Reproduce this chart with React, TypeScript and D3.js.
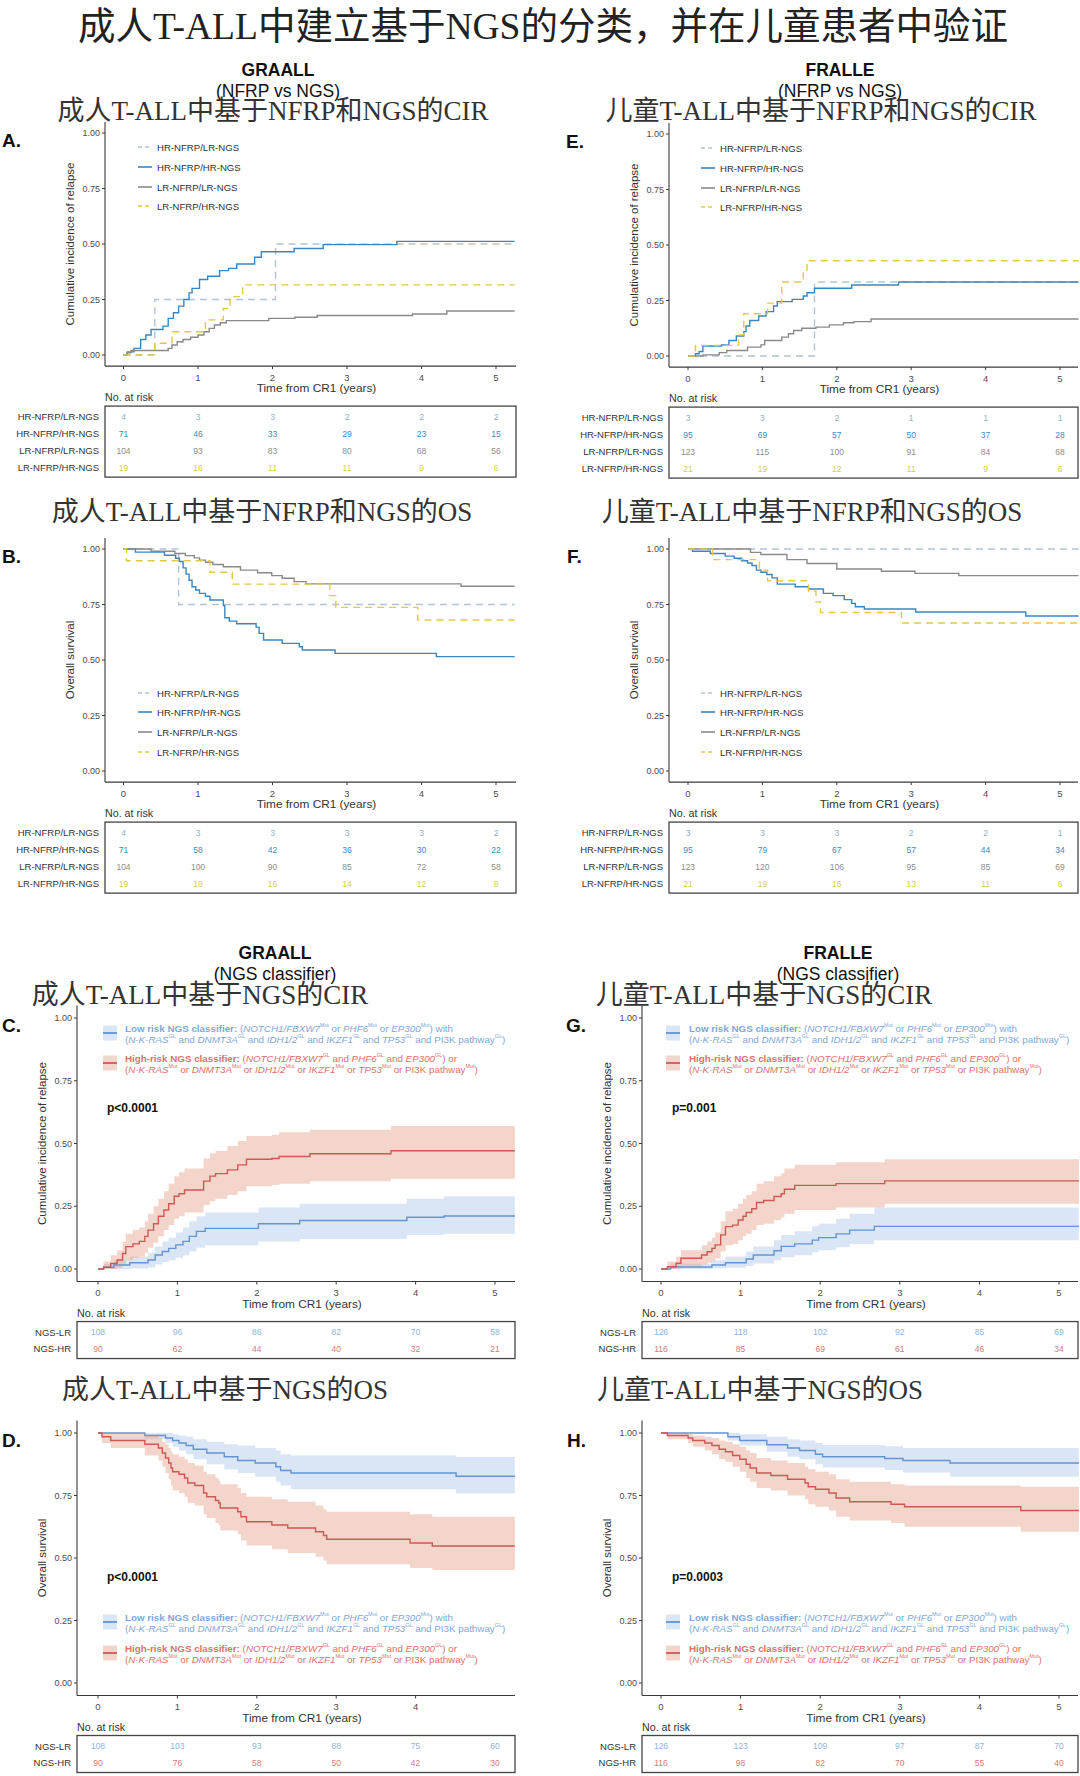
import React from "react";
import * as d3 from "d3";

// ---------------- DATA ----------------
const END = 5.25;
const timeTicks = [0, 1, 2, 3, 4, 5];
const timeTicksD = [0, 1, 2, 3, 4];
const yTicks = [0, 0.25, 0.5, 0.75, 1];
const groupsNFRP = ["HR-NFRP/LR-NGS", "HR-NFRP/HR-NGS", "LR-NFRP/LR-NGS", "LR-NFRP/HR-NGS"];
const groupsNGS = ["NGS-LR", "NGS-HR"];

// Panel A: CIR GRAALL NFRP vs NGS   [time, value]
const cirA_hrLr = [[0, 0], [0.42, 0.25], [2.04, 0.5]];
const cirA_hrHr = [[0, 0], [0.05, 0.014], [0.14, 0.03], [0.23, 0.07], [0.3, 0.09], [0.37, 0.115], [0.53, 0.13], [0.6, 0.165], [0.67, 0.19], [0.74, 0.22], [0.81, 0.25], [0.88, 0.28], [0.92, 0.3], [1.02, 0.34], [1.13, 0.355], [1.29, 0.38], [1.41, 0.39], [1.52, 0.41], [1.76, 0.44], [1.85, 0.465], [2.29, 0.48], [2.68, 0.497], [3.67, 0.512]];
const cirA_lrLr = [[0, 0], [0.05, 0.01], [0.1, 0.02], [0.6, 0.03], [0.65, 0.045], [0.72, 0.06], [0.8, 0.07], [0.9, 0.08], [1.0, 0.09], [1.08, 0.105], [1.15, 0.12], [1.22, 0.135], [1.3, 0.145], [1.38, 0.155], [1.95, 0.165], [2.3, 0.17], [2.6, 0.178], [3.88, 0.185], [4.34, 0.198]];
const cirA_lrHr = [[0, 0], [0.42, 0.053], [0.65, 0.105], [1.1, 0.158], [1.34, 0.21], [1.43, 0.263], [1.6, 0.316]];
const riskA = [[4, 3, 3, 2, 2, 2], [71, 46, 33, 29, 23, 15], [104, 93, 83, 80, 68, 56], [19, 16, 11, 11, 9, 6]];

// Panel B: OS GRAALL NFRP vs NGS
const osB_hrLr = [[0, 1], [0.74, 0.75]];
const osB_hrHr = [[0, 1], [0.16, 0.986], [0.55, 0.972], [0.7, 0.958], [0.75, 0.944], [0.8, 0.915], [0.84, 0.887], [0.88, 0.859], [0.92, 0.83], [0.97, 0.815], [1.02, 0.8], [1.1, 0.787], [1.16, 0.77], [1.34, 0.745], [1.36, 0.69], [1.42, 0.675], [1.52, 0.663], [1.78, 0.648], [1.82, 0.62], [1.88, 0.59], [2.13, 0.575], [2.36, 0.56], [2.4, 0.545], [2.84, 0.53], [4.2, 0.515]];
const osB_lrLr = [[0, 1], [0.37, 0.99], [0.69, 0.98], [0.83, 0.97], [0.95, 0.96], [1.02, 0.95], [1.1, 0.94], [1.2, 0.93], [1.34, 0.92], [1.57, 0.905], [1.8, 0.893], [1.99, 0.88], [2.13, 0.868], [2.29, 0.853], [2.45, 0.843], [4.53, 0.832]];
const osB_lrHr = [[0, 1], [0.04, 0.947], [1.16, 0.895], [1.46, 0.842], [2.77, 0.79], [2.85, 0.737], [3.95, 0.68]];
const riskB = [[4, 3, 3, 3, 3, 2], [71, 58, 42, 36, 30, 22], [104, 100, 90, 85, 72, 58], [19, 18, 16, 14, 12, 8]];

// Panel E: CIR FRALLE NFRP vs NGS
const cirE_hrLr = [[0, 0], [1.7, 0.333]];
const cirE_hrHr = [[0, 0], [0.1, 0.01], [0.15, 0.02], [0.2, 0.045], [0.45, 0.05], [0.55, 0.07], [0.65, 0.09], [0.75, 0.11], [0.78, 0.135], [0.83, 0.16], [0.95, 0.18], [1.05, 0.2], [1.15, 0.225], [1.2, 0.245], [1.4, 0.255], [1.55, 0.27], [1.6, 0.285], [1.7, 0.305], [2.2, 0.32], [2.83, 0.333]];
const cirE_lrLr = [[0, 0], [0.2, 0.005], [0.42, 0.015], [0.52, 0.025], [0.8, 0.04], [0.98, 0.05], [1.03, 0.07], [1.26, 0.085], [1.35, 0.1], [1.42, 0.115], [1.53, 0.125], [1.72, 0.13], [1.9, 0.14], [2.09, 0.15], [2.23, 0.155], [2.46, 0.167]];
const cirE_lrHr = [[0, 0], [0.1, 0.048], [0.68, 0.095], [0.75, 0.19], [1.07, 0.238], [1.26, 0.333], [1.55, 0.381], [1.6, 0.429]];
const riskE = [[3, 3, 2, 1, 1, 1], [95, 69, 57, 50, 37, 28], [123, 115, 100, 91, 84, 68], [21, 19, 12, 11, 9, 6]];

// Panel F: OS FRALLE NFRP vs NGS
const osF_hrLr = [[0, 1]];
const osF_hrHr = [[0, 1], [0.06, 0.99], [0.3, 0.98], [0.5, 0.968], [0.62, 0.958], [0.72, 0.947], [0.8, 0.937], [0.86, 0.926], [0.92, 0.905], [0.98, 0.895], [1.06, 0.885], [1.13, 0.87], [1.2, 0.842], [1.44, 0.83], [1.62, 0.82], [1.82, 0.8], [1.95, 0.79], [2.1, 0.772], [2.2, 0.755], [2.25, 0.74], [2.37, 0.73], [3.06, 0.716], [4.54, 0.698]];
const osF_lrLr = [[0, 1], [0.84, 0.985], [0.98, 0.975], [1.33, 0.952], [1.6, 0.935], [2.0, 0.91], [2.6, 0.9], [3.05, 0.89], [3.64, 0.88]];
const osF_lrHr = [[0, 1], [0.33, 0.952], [0.96, 0.905], [1.07, 0.857], [1.62, 0.81], [1.72, 0.762], [1.78, 0.714], [2.87, 0.667]];
const riskF = [[3, 3, 3, 2, 2, 1], [95, 79, 67, 57, 44, 34], [123, 120, 106, 95, 85, 69], [21, 19, 15, 13, 11, 6]];

// Panel C: CIR GRAALL NGS classifier  [time, estimate, lower, upper]
const cirC_lr = [[0, 0, 0, 0], [0.07, 0.007, 0, 0.02], [0.2, 0.016, 0, 0.035], [0.4, 0.025, 0.002, 0.05], [0.63, 0.036, 0.006, 0.065], [0.72, 0.056, 0.018, 0.09], [0.81, 0.07, 0.028, 0.11], [0.89, 0.082, 0.035, 0.125], [0.98, 0.096, 0.045, 0.145], [1.07, 0.11, 0.055, 0.165], [1.15, 0.13, 0.07, 0.19], [1.24, 0.15, 0.085, 0.21], [1.35, 0.162, 0.095, 0.225], [2.02, 0.18, 0.11, 0.245], [2.54, 0.193, 0.12, 0.26], [3.89, 0.206, 0.135, 0.28], [4.36, 0.211, 0.14, 0.29]];
const cirC_hr = [[0, 0, 0, 0], [0.07, 0.007, 0, 0.03], [0.16, 0.022, 0, 0.055], [0.24, 0.036, 0.005, 0.075], [0.31, 0.062, 0.02, 0.11], [0.35, 0.089, 0.035, 0.14], [0.44, 0.1, 0.045, 0.155], [0.52, 0.11, 0.05, 0.165], [0.59, 0.13, 0.065, 0.19], [0.63, 0.155, 0.085, 0.22], [0.7, 0.18, 0.105, 0.25], [0.76, 0.21, 0.13, 0.28], [0.83, 0.235, 0.155, 0.31], [0.89, 0.26, 0.175, 0.34], [0.96, 0.29, 0.2, 0.37], [1.02, 0.3, 0.21, 0.385], [1.09, 0.315, 0.225, 0.4], [1.33, 0.35, 0.255, 0.44], [1.41, 0.37, 0.27, 0.46], [1.48, 0.38, 0.28, 0.47], [1.63, 0.395, 0.295, 0.49], [1.76, 0.415, 0.31, 0.51], [1.87, 0.437, 0.33, 0.53], [2.19, 0.44, 0.335, 0.535], [2.28, 0.448, 0.34, 0.545], [2.67, 0.459, 0.35, 0.555], [3.69, 0.471, 0.36, 0.57]];
const riskC = [[108, 96, 86, 82, 70, 58], [90, 62, 44, 40, 32, 21]];

// Panel G: CIR FRALLE NGS classifier
const cirG_lr = [[0, 0, 0, 0], [0.12, 0.008, 0, 0.022], [0.64, 0.016, 0.002, 0.035], [0.81, 0.025, 0.005, 0.05], [1.07, 0.04, 0.012, 0.07], [1.16, 0.056, 0.022, 0.09], [1.42, 0.073, 0.035, 0.115], [1.51, 0.09, 0.047, 0.135], [1.68, 0.1, 0.055, 0.15], [1.9, 0.115, 0.067, 0.17], [1.98, 0.125, 0.075, 0.18], [2.2, 0.14, 0.087, 0.2], [2.37, 0.155, 0.1, 0.22], [2.68, 0.17, 0.115, 0.245]];
const cirG_hr = [[0, 0, 0, 0], [0.08, 0.009, 0, 0.03], [0.19, 0.023, 0.002, 0.05], [0.25, 0.043, 0.01, 0.075], [0.51, 0.056, 0.018, 0.095], [0.58, 0.069, 0.025, 0.11], [0.64, 0.082, 0.033, 0.125], [0.68, 0.096, 0.042, 0.145], [0.75, 0.136, 0.07, 0.19], [0.81, 0.169, 0.095, 0.23], [0.9, 0.175, 0.1, 0.24], [0.97, 0.195, 0.115, 0.26], [1.03, 0.21, 0.13, 0.28], [1.07, 0.225, 0.14, 0.295], [1.14, 0.24, 0.155, 0.31], [1.2, 0.265, 0.175, 0.34], [1.29, 0.273, 0.18, 0.35], [1.42, 0.289, 0.195, 0.37], [1.51, 0.3, 0.205, 0.38], [1.55, 0.318, 0.22, 0.4], [1.68, 0.333, 0.235, 0.415], [2.2, 0.34, 0.245, 0.425], [2.81, 0.351, 0.26, 0.437]];
const riskG = [[126, 118, 102, 92, 85, 69], [116, 85, 69, 61, 46, 34]];

// Panel D: OS GRAALL NGS classifier
const osD_lr = [[0, 1, 1, 1], [0.59, 0.99, 0.975, 1], [0.85, 0.98, 0.96, 1], [0.94, 0.97, 0.945, 0.995], [1.02, 0.96, 0.93, 0.99], [1.11, 0.95, 0.915, 0.985], [1.2, 0.935, 0.895, 0.975], [1.37, 0.92, 0.875, 0.965], [1.59, 0.905, 0.855, 0.955], [1.76, 0.89, 0.84, 0.95], [1.98, 0.88, 0.825, 0.94], [2.24, 0.865, 0.805, 0.93], [2.3, 0.85, 0.79, 0.915], [2.43, 0.84, 0.775, 0.91], [4.51, 0.827, 0.758, 0.904]];
const osD_hr = [[0, 1, 1, 1], [0.05, 0.985, 0.96, 1], [0.16, 0.97, 0.94, 1], [0.59, 0.955, 0.91, 0.99], [0.76, 0.94, 0.89, 0.98], [0.81, 0.92, 0.865, 0.965], [0.85, 0.9, 0.84, 0.955], [0.89, 0.88, 0.815, 0.94], [0.92, 0.86, 0.79, 0.925], [0.94, 0.845, 0.77, 0.915], [1.02, 0.835, 0.76, 0.905], [1.09, 0.82, 0.745, 0.895], [1.13, 0.8, 0.72, 0.88], [1.22, 0.79, 0.71, 0.87], [1.33, 0.76, 0.675, 0.845], [1.37, 0.745, 0.66, 0.835], [1.48, 0.73, 0.64, 0.82], [1.52, 0.72, 0.63, 0.81], [1.54, 0.7, 0.61, 0.795], [1.76, 0.685, 0.595, 0.78], [1.8, 0.665, 0.57, 0.76], [1.87, 0.645, 0.55, 0.745], [2.19, 0.632, 0.535, 0.735], [2.39, 0.62, 0.52, 0.725], [2.74, 0.605, 0.505, 0.71], [2.84, 0.59, 0.49, 0.695], [2.88, 0.575, 0.475, 0.685], [3.93, 0.56, 0.46, 0.675], [4.21, 0.548, 0.452, 0.665]];
const riskD = [[108, 103, 93, 88, 75, 60], [90, 76, 58, 50, 42, 30]];

// Panel H: OS FRALLE NGS classifier
const osH_lr = [[0, 1, 1, 1], [0.84, 0.985, 0.97, 1], [0.99, 0.97, 0.95, 0.995], [1.33, 0.953, 0.925, 0.985], [1.59, 0.94, 0.905, 0.975], [1.74, 0.93, 0.895, 0.97], [1.94, 0.915, 0.875, 0.96], [2.03, 0.905, 0.862, 0.952], [2.81, 0.898, 0.852, 0.947], [3.04, 0.89, 0.842, 0.94], [3.63, 0.88, 0.825, 0.94]];
const osH_hr = [[0, 1, 1, 1], [0.08, 0.99, 0.975, 1], [0.34, 0.98, 0.96, 0.995], [0.4, 0.97, 0.945, 0.99], [0.55, 0.96, 0.93, 0.985], [0.64, 0.95, 0.915, 0.98], [0.73, 0.935, 0.895, 0.97], [0.81, 0.925, 0.885, 0.965], [0.9, 0.91, 0.865, 0.955], [0.99, 0.895, 0.845, 0.945], [1.07, 0.875, 0.82, 0.93], [1.12, 0.86, 0.805, 0.92], [1.2, 0.84, 0.78, 0.9], [1.38, 0.83, 0.77, 0.89], [1.59, 0.815, 0.75, 0.88], [1.81, 0.8, 0.735, 0.865], [1.85, 0.785, 0.715, 0.855], [1.94, 0.775, 0.705, 0.845], [2.11, 0.76, 0.69, 0.835], [2.2, 0.74, 0.665, 0.815], [2.37, 0.725, 0.65, 0.805], [2.89, 0.715, 0.64, 0.795], [3.06, 0.705, 0.625, 0.79], [4.52, 0.69, 0.605, 0.785]];
const riskH = [[126, 123, 109, 97, 87, 70], [116, 98, 82, 70, 55, 40]];

// ---------------- STYLE ----------------
const SANS = "'Liberation Sans', Arial, sans-serif";
const CJK = "'Liberation Serif', 'Noto Sans CJK SC', serif";
const NFRP_STYLE = [
  { color: "#b4c3d6", dash: "7 5", num: "#8fb0c9" },
  { color: "#3a86c0", dash: "", num: "#3a8cc4" },
  { color: "#8a8a8a", dash: "", num: "#8d8d8d" },
  { color: "#e2c94a", dash: "7 5", num: "#d4cf4a" },
];
const NGS_STYLE = [
  { color: "#6395d2", band: "#adc7eb", text: "#7ea8da", num: "#8fb4de" },
  { color: "#cc5a52", band: "#e7a18b", text: "#d9736b", num: "#d97a74" },
];

type Seg = { t: string; b?: boolean; i?: boolean; sup?: boolean };
const LOW1: Seg[] = [{ t: "Low risk NGS classifier: ", b: true }, { t: "(" }, { t: "NOTCH1/FBXW7", i: true }, { t: "Mut", sup: true }, { t: " or " }, { t: "PHF6", i: true }, { t: "Mut", sup: true }, { t: " or " }, { t: "EP300", i: true }, { t: "Mut", sup: true }, { t: ") with" }];
const LOW2: Seg[] = [{ t: "(" }, { t: "N-K-RAS", i: true }, { t: "GL", sup: true }, { t: " and " }, { t: "DNMT3A", i: true }, { t: "GL", sup: true }, { t: " and " }, { t: "IDH1/2", i: true }, { t: "GL", sup: true }, { t: " and " }, { t: "IKZF1", i: true }, { t: "GL", sup: true }, { t: " and " }, { t: "TP53", i: true }, { t: "GL", sup: true }, { t: " and PI3K pathway" }, { t: "GL", sup: true }, { t: ")" }];
const HIGH1: Seg[] = [{ t: "High-risk NGS classifier: ", b: true }, { t: "(" }, { t: "NOTCH1/FBXW7", i: true }, { t: "GL", sup: true }, { t: " and " }, { t: "PHF6", i: true }, { t: "GL", sup: true }, { t: " and " }, { t: "EP300", i: true }, { t: "GL", sup: true }, { t: ") or" }];
const HIGH2: Seg[] = [{ t: "(" }, { t: "N-K-RAS", i: true }, { t: "Mut", sup: true }, { t: " or " }, { t: "DNMT3A", i: true }, { t: "Mut", sup: true }, { t: " or " }, { t: "IDH1/2", i: true }, { t: "Mut", sup: true }, { t: " or " }, { t: "IKZF1", i: true }, { t: "Mut", sup: true }, { t: " or " }, { t: "TP53", i: true }, { t: "Mut", sup: true }, { t: " or PI3K pathway" }, { t: "Mut", sup: true }, { t: ")" }];

function Rich({ segs, x, y, color, size }: { segs: Seg[]; x: number; y: number; color: string; size: number }) {
  const out: any[] = [];
  let up = false;
  segs.forEach((s, k) => {
    if (s.sup) {
      out.push(<tspan key={k} dy={-3} fontSize={size * 0.55}>{s.t}</tspan>);
      up = true;
    } else {
      out.push(<tspan key={k} dy={up ? 3 : 0} fontWeight={s.b ? "bold" : "normal"} fontStyle={s.i ? "italic" : "normal"}>{s.t}</tspan>);
      up = false;
    }
  });
  return <text x={x} y={y} fill={color} fontSize={size} fontFamily={SANS} dominantBaseline="central">{out}</text>;
}

function stepPath(xs: any, ys: any, pts: number[][]) {
  const last = pts[pts.length - 1];
  const all = [...pts, [END, ...last.slice(1)]];
  return d3.line<number[]>().x((d) => xs(d[0])).y((d) => ys(d[1])).curve(d3.curveStepAfter)(all) || "";
}
function bandPath(xs: any, ys: any, pts: number[][]) {
  const last = pts[pts.length - 1];
  const all = [...pts, [END, ...last.slice(1)]];
  return d3.area<number[]>().x((d) => xs(d[0])).y0((d) => ys(d[2])).y1((d) => ys(d[3])).curve(d3.curveStepAfter)(all) || "";
}

type PanelCfg = {
  x0: number; xEnd: number; t0: number; t5: number; yt: number; yb: number;
  letter: string; lx: number; yTitle: string; xTickVals: number[];
  kind: "nfrp" | "ngs"; series: number[][][]; risk: number[][];
  legendX?: number; legendY?: number[]; keyX?: number; textX?: number; lowY?: number; highY?: number;
  pX?: number; pY?: number; pText?: string;
};

function Panel({ c }: { c: PanelCfg }) {
  const xs = d3.scaleLinear().domain([0, 5]).range([c.t0, c.t5]);
  const ys = d3.scaleLinear().domain([0, 1]).range([c.yb, c.yt]);
  const axB = ys(-0.05);
  const axT = ys(1.05);
  const axC = "#3a3a3a";
  const isNGS = c.kind === "ngs";
  const labels = isNGS ? groupsNGS : groupsNFRP;
  const boxTop = axB + 40;
  const rowGap = isNGS ? 16.5 : 17;
  const boxH = isNGS ? 37 : 71;
  return (
    <g>
      {isNGS && c.series.map((s, k) => (
        <path key={"b" + k} d={bandPath(xs, ys, s)} fill={NGS_STYLE[k].band} fillOpacity={0.45} stroke="none" />
      ))}
      {c.series.map((s, k) => {
        const st = isNGS ? { color: NGS_STYLE[k].color, dash: "" } : NFRP_STYLE[k];
        return <path key={"l" + k} d={stepPath(xs, ys, s)} fill="none" stroke={st.color} strokeWidth={1.4} strokeDasharray={st.dash} />;
      })}
      <line x1={c.x0} x2={c.x0} y1={axT} y2={axB} stroke={axC} strokeWidth={1.1} />
      <line x1={c.x0} x2={c.xEnd} y1={axB} y2={axB} stroke={axC} strokeWidth={1.1} />
      {yTicks.map((v) => (
        <g key={"y" + v}>
          <line x1={c.x0 - 3} x2={c.x0} y1={ys(v)} y2={ys(v)} stroke={axC} strokeWidth={1} />
          <text x={c.x0 - 5} y={ys(v)} textAnchor="end" dominantBaseline="central" fontSize={9} fill="#4d4d4d" fontFamily={SANS}>{v.toFixed(2)}</text>
        </g>
      ))}
      {c.xTickVals.map((t) => (
        <g key={"x" + t}>
          <line x1={xs(t)} x2={xs(t)} y1={axB} y2={axB + 3} stroke={axC} strokeWidth={1} />
          <text x={xs(t)} y={axB + 11} textAnchor="middle" dominantBaseline="central" fontSize={9.5} fill="#4d4d4d" fontFamily={SANS}>{t}</text>
        </g>
      ))}
      <text transform={`translate(${c.x0 - 35},${(c.yt + c.yb) / 2}) rotate(-90)`} textAnchor="middle" dominantBaseline="central" fontSize={11.5} fill="#333" fontFamily={SANS}>{c.yTitle}</text>
      <text x={(c.x0 + c.xEnd) / 2 + 6} y={axB + 22} textAnchor="middle" dominantBaseline="central" fontSize={11.8} fill="#333" fontFamily={SANS}>Time from CR1 (years)</text>
      <text x={c.x0} y={axB + 31} dominantBaseline="central" fontSize={10.7} fill="#333" fontFamily={SANS}>No. at risk</text>
      <rect x={c.x0} y={boxTop} width={c.xEnd - c.x0} height={boxH} fill="none" stroke="#444" strokeWidth={1.3} />
      {labels.map((lab, r) => (
        <g key={"r" + r}>
          <text x={c.x0 - 6} y={boxTop + 10.5 + r * rowGap} textAnchor="end" dominantBaseline="central" fontSize={9.5} fill="#333" fontFamily={SANS}>{lab}</text>
          {c.risk[r].map((n, j) => (
            <text key={j} x={xs(timeTicks[j])} y={boxTop + 10.5 + r * rowGap} textAnchor="middle" dominantBaseline="central" fontSize={8.5} fill={isNGS ? NGS_STYLE[r].num : NFRP_STYLE[r].num} fontFamily={SANS}>{n}</text>
          ))}
        </g>
      ))}
      {!isNGS && c.legendY && groupsNFRP.map((g, k) => (
        <g key={"lg" + k}>
          <line x1={c.legendX!} x2={c.legendX! + 14} y1={c.legendY![k]} y2={c.legendY![k]} stroke={NFRP_STYLE[k].color} strokeWidth={1.6} strokeDasharray={k === 0 || k === 3 ? "4 3" : ""} />
          <text x={c.legendX! + 19} y={c.legendY![k]} dominantBaseline="central" fontSize={9.6} fill="#333" fontFamily={SANS}>{g}</text>
        </g>
      ))}
      {isNGS && (
        <g>
          {[c.lowY!, c.highY!].map((cy, k) => (
            <g key={"nk" + k}>
              <rect x={c.keyX!} y={cy - 7.5} width={14} height={15} fill={NGS_STYLE[k].band} fillOpacity={0.45} />
              <line x1={c.keyX!} x2={c.keyX! + 14} y1={cy} y2={cy} stroke={NGS_STYLE[k].color} strokeWidth={1.8} />
            </g>
          ))}
          <Rich segs={LOW1} x={c.textX!} y={c.lowY! - 5.5} color={NGS_STYLE[0].text} size={9.8} />
          <Rich segs={LOW2} x={c.textX!} y={c.lowY! + 5.5} color={NGS_STYLE[0].text} size={9.8} />
          <Rich segs={HIGH1} x={c.textX!} y={c.highY! - 5.5} color={NGS_STYLE[1].text} size={9.8} />
          <Rich segs={HIGH2} x={c.textX!} y={c.highY! + 5.5} color={NGS_STYLE[1].text} size={9.8} />
          <text x={c.pX} y={c.pY} dominantBaseline="central" fontSize={12} fontWeight="bold" fill="#111" fontFamily={SANS}>{c.pText}</text>
        </g>
      )}
      <text x={c.lx} y={c.yt + 7} dominantBaseline="central" fontSize={19} fontWeight="bold" fill="#111" fontFamily={SANS}>{c.letter}</text>
    </g>
  );
}

const LX = { x0: 105, xEnd: 516, t0: 123.5, t5: 496 };
const RX = { x0: 669, xEnd: 1078, t0: 688, t5: 1060 };
const LXn = { x0: 77, xEnd: 515, t0: 98, t5: 495 };
const RXn = { x0: 642, xEnd: 1078, t0: 661, t5: 1059 };
const CIR = "Cumulative incidence of relapse";
const OS = "Overall survival";

const panels: PanelCfg[] = [
  { ...LX, yt: 133, yb: 355, letter: "A.", lx: 2, yTitle: CIR, xTickVals: timeTicks, kind: "nfrp", series: [cirA_hrLr, cirA_hrHr, cirA_lrLr, cirA_lrHr], risk: riskA, legendX: 138, legendY: [147, 167, 187, 206] },
  { ...LX, yt: 549, yb: 771, letter: "B.", lx: 2, yTitle: OS, xTickVals: timeTicks, kind: "nfrp", series: [osB_hrLr, osB_hrHr, osB_lrLr, osB_lrHr], risk: riskB, legendX: 138, legendY: [693, 712, 732, 752] },
  { ...RX, yt: 134, yb: 356, letter: "E.", lx: 566, yTitle: CIR, xTickVals: timeTicks, kind: "nfrp", series: [cirE_hrLr, cirE_hrHr, cirE_lrLr, cirE_lrHr], risk: riskE, legendX: 701, legendY: [148, 168, 188, 207] },
  { ...RX, yt: 549, yb: 771, letter: "F.", lx: 567, yTitle: OS, xTickVals: timeTicks, kind: "nfrp", series: [osF_hrLr, osF_hrHr, osF_lrLr, osF_lrHr], risk: riskF, legendX: 701, legendY: [693, 712, 732, 752] },
  { ...LXn, yt: 1018, yb: 1269, letter: "C.", lx: 2, yTitle: CIR, xTickVals: timeTicks, kind: "ngs", series: [cirC_lr, cirC_hr], risk: riskC, keyX: 103, textX: 125, lowY: 1033, highY: 1063, pX: 107, pY: 1108, pText: "p<0.0001" },
  { ...RXn, yt: 1018, yb: 1269, letter: "G.", lx: 566, yTitle: CIR, xTickVals: timeTicks, kind: "ngs", series: [cirG_lr, cirG_hr], risk: riskG, keyX: 666, textX: 689, lowY: 1033, highY: 1063, pX: 672, pY: 1108, pText: "p=0.001" },
  { ...LXn, yt: 1433, yb: 1683, letter: "D.", lx: 2, yTitle: OS, xTickVals: timeTicksD, kind: "ngs", series: [osD_lr, osD_hr], risk: riskD, keyX: 103, textX: 125, lowY: 1622, highY: 1653, pX: 107, pY: 1577, pText: "p<0.0001" },
  { ...RXn, yt: 1433, yb: 1683, letter: "H.", lx: 567, yTitle: OS, xTickVals: timeTicks, kind: "ngs", series: [osH_lr, osH_hr], risk: riskH, keyX: 666, textX: 689, lowY: 1622, highY: 1653, pX: 672, pY: 1577, pText: "p=0.0003" },
];

const headers = [
  { x: 278, y: 70, t: "GRAALL", b: true }, { x: 278, y: 91, t: "(NFRP vs NGS)", b: false },
  { x: 840, y: 70, t: "FRALLE", b: true }, { x: 840, y: 91, t: "(NFRP vs NGS)", b: false },
  { x: 275, y: 953, t: "GRAALL", b: true }, { x: 275, y: 974, t: "(NGS classifier)", b: false },
  { x: 838, y: 953, t: "FRALLE", b: true }, { x: 838, y: 974, t: "(NGS classifier)", b: false },
];
const cnTitles = [
  { x: 273, y: 111, t: "成人T-ALL中基于NFRP和NGS的CIR" },
  { x: 821, y: 111, t: "儿童T-ALL中基于NFRP和NGS的CIR" },
  { x: 262, y: 512, t: "成人T-ALL中基于NFRP和NGS的OS" },
  { x: 812, y: 512, t: "儿童T-ALL中基于NFRP和NGS的OS" },
  { x: 200, y: 995, t: "成人T-ALL中基于NGS的CIR" },
  { x: 764, y: 995, t: "儿童T-ALL中基于NGS的CIR" },
  { x: 225, y: 1390, t: "成人T-ALL中基于NGS的OS" },
  { x: 760, y: 1390, t: "儿童T-ALL中基于NGS的OS" },
];

export default function App() {
  return (
    <svg width={1080} height={1776} style={{ position: "absolute", left: 0, top: 0, background: "#fff" }}>
      <rect width={1080} height={1776} fill="#fff" />
      <text x={543} y={26} textAnchor="middle" dominantBaseline="central" fontSize={37.5} fill="#222" fontFamily={CJK}>成人T-ALL中建立基于NGS的分类，并在儿童患者中验证</text>
      {headers.map((h, k) => (
        <text key={"h" + k} x={h.x} y={h.y} textAnchor="middle" dominantBaseline="central" fontSize={17.5} fontWeight={h.b ? "bold" : "normal"} fill="#111" fontFamily={SANS}>{h.t}</text>
      ))}
      {cnTitles.map((h, k) => (
        <text key={"c" + k} x={h.x} y={h.y} textAnchor="middle" dominantBaseline="central" fontSize={27} fill="#333" fontFamily={CJK}>{h.t}</text>
      ))}
      {panels.map((p, k) => <Panel key={k} c={p} />)}
    </svg>
  );
}
